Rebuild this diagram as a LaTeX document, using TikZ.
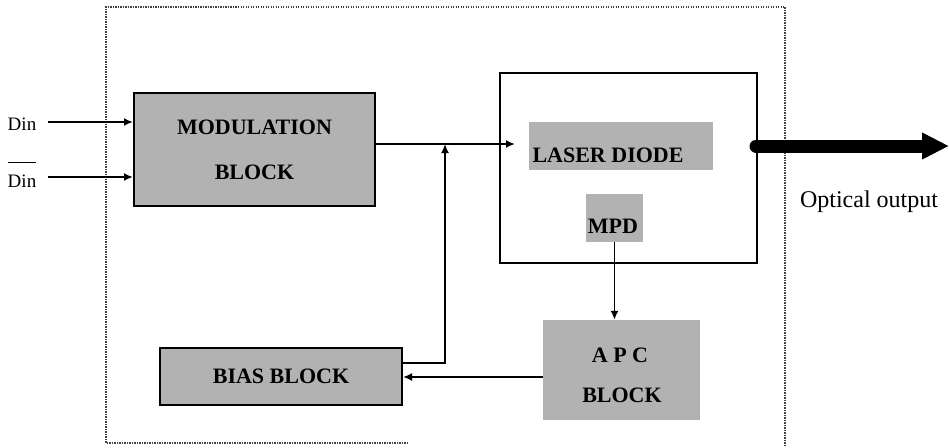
\documentclass[tikz,border=0pt]{standalone}
\usepackage{fontspec}
\setmainfont{Liberation Serif}
\usetikzlibrary{arrows.meta}
\definecolor{stipple}{gray}{0.70}
\begin{document}
\begin{tikzpicture}[x=1pt,y=-1pt,
  blk/.style={draw, line width=2pt, fill=stipple, inner sep=0pt},
  shd/.style={fill=stipple, inner sep=0pt},
  lbl/.style={font=\fontsize{22}{40}\selectfont\bfseries, inner sep=0pt},
  conn/.style={line width=1.8pt, -{Latex[length=9pt,width=8pt]}},
  border/.style={line width=1.1pt, black!75, dash pattern=on 1.2pt off 1.3pt}]
\useasboundingbox (0,0) rectangle (949,447);
% dotted enclosure
\draw[border] (408,443) -- (106,443) -- (106,7) -- (785,7) -- (785,447);
% blocks
\node[blk, minimum width=241pt, minimum height=113pt, align=center,
      font=\fontsize{22}{45}\selectfont\bfseries] (mod) at (254.5,149.5) {MODULATION\\BLOCK};
\node[draw, line width=2pt, fill=white, minimum width=257pt, minimum height=190pt] (laser) at (628.5,168) {};
\node[shd, minimum width=184pt, minimum height=48pt] (ldbox) at (621,146) {};
\node[lbl, anchor=base] (ldtxt) at (608,162) {LASER DIODE};
\node[shd, minimum width=57pt, minimum height=48pt] (mpd) at (614.5,218) {};
\node[lbl, anchor=base] (mpdtxt) at (613,233) {MPD};
\node[shd, minimum width=157pt, minimum height=100pt] (apc) at (621.5,370) {};
\node[lbl, anchor=base] (apc1) at (620,362) {A P C};
\node[lbl, anchor=base] (apc2) at (622,402) {BLOCK};
\node[blk, minimum width=242pt, minimum height=57pt, font=\fontsize{22}{26}\selectfont\bfseries] (bias) at (281,376.5) {BIAS BLOCK};
% inputs
\node[font=\fontsize{19}{22}\selectfont, inner sep=0pt, anchor=base] (din1) at (22,130) {Din};
\node[font=\fontsize{19}{22}\selectfont, inner sep=0pt, anchor=base] (din2) at (22,187) {Din};
\draw[line width=1.2pt] ([yshift=12pt]din2.north west) -- ([yshift=12pt]din2.north east);
\coordinate (d1s) at (48,122);
\coordinate (d2s) at (48,177);
\draw[conn] (d1s) -- (d1s -| mod.west);
\draw[conn] (d2s) -- (d2s -| mod.west);
% modulation -> laser
\coordinate (ldin) at (515,144);
\draw[conn] (mod.east |- ldin) -- (ldin);
% bias feedback
\coordinate (junc) at (445,144);
\draw[conn] ([yshift=13.5pt]bias.east) -| (junc);
% MPD -> APC
\draw[conn] (mpd.south) -- (mpd.south |- apc.north);
% APC -> BIAS
\draw[conn] ([yshift=-7pt]apc.west) -- ([yshift=-7pt]apc.west -| bias.east);
% optical output
\coordinate (optend) at (949,146);
\draw[line width=13pt, line cap=round, -{Triangle[length=27pt,width=25pt]}]
  ([xshift=-2pt]laser.east |- optend) -- (optend);
\node[font=\fontsize{24}{30}\selectfont, inner sep=0pt, anchor=base] (opt) at (869,207) {Optical output};
\end{tikzpicture}
\end{document}
